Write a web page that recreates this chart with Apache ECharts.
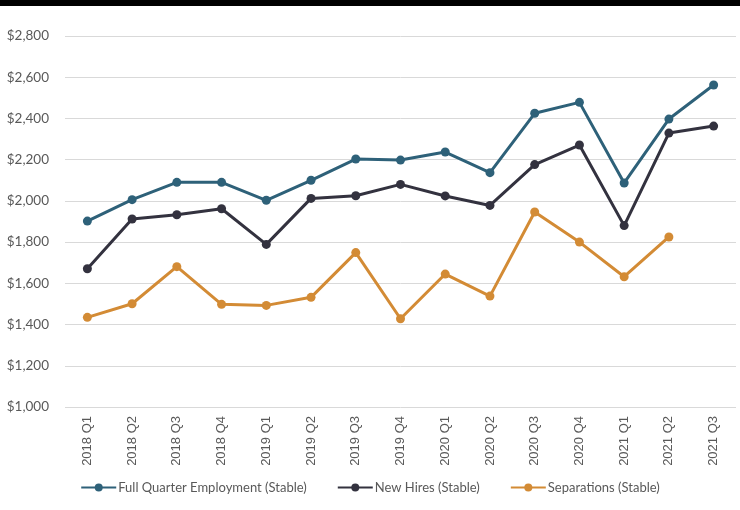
<!DOCTYPE html>
<html><head><meta charset="utf-8">
<script src="https://cdn.jsdelivr.net/npm/echarts@6/dist/echarts.min.js"></script>
<style>html,body{margin:0;padding:0;background:#fff;}#topbar{position:absolute;left:0;top:0;width:740px;height:6px;background:#000;}#c{width:740px;height:510px;}</style>
</head><body>
<div id="c"></div><div id="topbar"></div>
<script>
const categories = ['2018 Q1','2018 Q2','2018 Q3','2018 Q4','2019 Q1','2019 Q2','2019 Q3','2019 Q4','2020 Q1','2020 Q2','2020 Q3','2020 Q4','2021 Q1','2021 Q2','2021 Q3'];
const fullQuarter = [1902,2006,2090,2090,2003,2100,2203,2198,2237,2137,2425,2478,2087,2397,2562];
const newHires = [1671,1912,1933,1962,1789,2012,2025,2080,2024,1978,2176,2271,1880,2329,2363];
const separations = [1435,1501,1681,1498,1493,1532,1749,1428,1645,1538,1946,1800,1632,1825,null];
const seriesNames = ['Full Quarter Employment (Stable)','New Hires (Stable)','Separations (Stable)'];
const colors = ['#2E6179','#33323F','#D38B35'];
const yMin = 1000, yMax = 2800, yStep = 200;

const chart = echarts.init(document.getElementById('c'), null, {renderer:'canvas'});
const mk = (name, data, color) => ({
  name, type:'line', data, connectNulls:false,
  symbol:'circle', symbolSize:9,
  lineStyle:{color, width:3},
  itemStyle:{color},
  emphasis:{disabled:true}
});
chart.setOption({
  animation:false,
  color: colors,
  grid:{left:65, right:4, top:36, bottom:103, containLabel:false},
  legend:{
    bottom:11, left:'center', itemWidth:35, itemHeight:10, itemGap:30,
    textStyle:{color:'#595959', fontSize:13, fontFamily:'Lato', padding:[0,0,0,-3]},
    data: seriesNames
  },
  xAxis:{
    type:'category', data:categories, boundaryGap:true,
    axisLine:{show:false}, axisTick:{show:false},
    axisLabel:{rotate:90, color:'#595959', fontSize:13, fontFamily:'Liberation Sans', margin:9, interval:0}
  },
  yAxis:{
    type:'value', min:yMin, max:yMax, interval:yStep,
    axisLine:{show:false}, axisTick:{show:false},
    splitLine:{lineStyle:{color:'#d9d9d9', width:1}},
    axisLabel:{color:'#595959', fontSize:13.5, fontFamily:'Lato', margin:16,
      formatter: v => '$' + v.toLocaleString('en-US')}
  },
  series:[
    mk(seriesNames[0], fullQuarter, colors[0]),
    mk(seriesNames[1], newHires, colors[1]),
    mk(seriesNames[2], separations, colors[2])
  ]
});
</script>
</body></html>
